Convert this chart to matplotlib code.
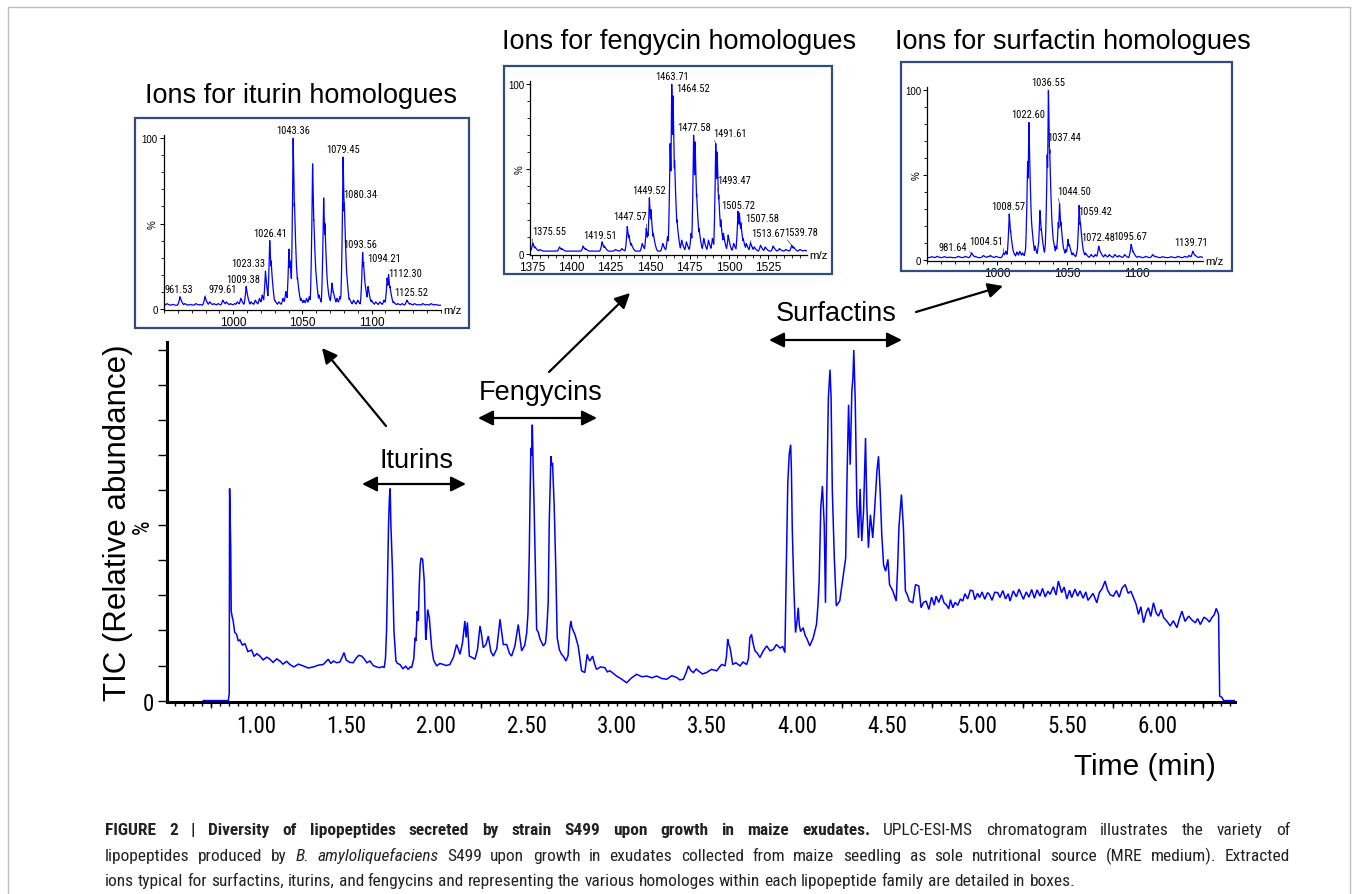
import os
import numpy as np
import matplotlib
matplotlib.use('Agg')
import matplotlib.pyplot as plt
from matplotlib import font_manager as fm
from matplotlib.font_manager import FontProperties
from matplotlib.patches import Rectangle
from matplotlib.ticker import MultipleLocator

# ======================= DATA =======================
# Total ion chromatogram (time in min, relative abundance in %), read segment by segment
t_solvent = [0.708, 0.847, 0.852, 0.854, 0.857, 0.860, 0.863, 0.868, 0.874, 0.882,
             0.893, 0.902, 0.911, 0.925, 0.939, 0.955, 0.976, 0.990, 1.005, 1.022,
             1.040, 1.060, 1.078, 1.095, 1.115, 1.133, 1.150, 1.170, 1.188, 1.210,
             1.235, 1.262, 1.290, 1.318, 1.345, 1.373, 1.390, 1.401, 1.415, 1.430,
             1.447, 1.465, 1.478, 1.488, 1.500, 1.520, 1.539, 1.555, 1.570, 1.586,
             1.600, 1.615, 1.632, 1.650, 1.668, 1.687, 1.700, 1.711]
v_solvent = [0.0, 0.0, 2.0, 60.5, 52.0, 44.5, 25.5, 24.0, 22.7, 19.5,
             18.9, 17.0, 17.3, 15.8, 16.3, 14.0, 14.4, 12.6, 13.4, 12.7,
             11.6, 12.4, 11.8, 10.9, 11.9, 11.3, 10.4, 11.2, 10.3, 9.6,
             10.4, 9.9, 9.3, 9.6, 10.1, 10.3, 11.2, 11.8, 10.6, 11.3,
             10.8, 11.0, 12.4, 13.7, 11.6, 10.9, 10.8, 12.1, 12.9, 12.7,
             11.9, 10.8, 11.3, 10.0, 9.6, 9.4, 9.7, 9.4]

t_itu_feng = [1.718, 1.724, 1.730, 1.735, 1.740, 1.744, 1.748, 1.752, 1.757, 1.765,
              1.776, 1.785, 1.798, 1.815, 1.830, 1.844, 1.855, 1.863, 1.875, 1.882,
              1.887, 1.894, 1.900, 1.905, 1.910, 1.915, 1.924, 1.933, 1.941, 1.946,
              1.952, 1.961, 1.974, 1.985, 2.002, 2.020, 2.039, 2.055, 2.075, 2.095,
              2.112, 2.120, 2.131, 2.145, 2.158, 2.165, 2.172, 2.183, 2.198, 2.214,
              2.228, 2.242, 2.250, 2.260, 2.275, 2.288, 2.302, 2.316, 2.335, 2.353,
              2.362, 2.371, 2.390, 2.405, 2.417, 2.435, 2.454, 2.463, 2.473, 2.490,
              2.501, 2.508, 2.515, 2.520, 2.524, 2.528, 2.532, 2.537, 2.542, 2.547,
              2.556, 2.565, 2.575, 2.593, 2.605, 2.612, 2.620, 2.626, 2.631, 2.635,
              2.640, 2.644, 2.653, 2.662, 2.670, 2.682, 2.694, 2.706, 2.718, 2.730,
              2.740, 2.746, 2.751, 2.760, 2.768, 2.786, 2.805, 2.823, 2.836, 2.843,
              2.851, 2.866, 2.877, 2.888]
v_itu_feng = [12.0, 19.9, 36.5, 50.0, 58.0, 60.5, 50.2, 44.0, 36.9, 19.9,
              11.3, 10.6, 10.3, 9.1, 9.8, 8.9, 9.6, 9.4, 12.0, 17.9,
              17.0, 25.5, 22.7, 32.2, 38.5, 40.7, 40.3, 34.1, 17.3, 20.5,
              26.0, 23.6, 15.1, 11.5, 9.9, 10.6, 10.3, 10.0, 10.3, 12.4,
              16.0, 15.0, 13.2, 16.5, 22.7, 18.0, 22.3, 12.7, 12.3, 11.8,
              14.5, 21.3, 19.0, 15.1, 16.0, 18.4, 14.0, 12.7, 14.8, 23.2,
              19.5, 16.0, 16.0, 13.5, 12.7, 15.5, 21.7, 18.0, 14.2, 15.8,
              19.4, 25.0, 41.7, 60.0, 72.1, 70.0, 78.7, 65.9, 55.0, 42.6,
              20.3, 19.5, 17.5, 15.6, 16.5, 20.3, 28.0, 51.2, 62.0, 69.7,
              67.0, 67.8, 55.9, 37.9, 17.9, 14.5, 13.2, 12.5, 11.3, 12.8,
              20.8, 22.7, 21.0, 19.8, 18.9, 15.6, 8.5, 8.0, 13.2, 12.0,
              11.3, 12.7, 10.5, 8.9]

t_valley = [2.910, 2.934, 2.948, 2.962, 2.980, 2.999, 3.025, 3.055, 3.080, 3.110,
            3.140, 3.166, 3.195, 3.221, 3.250, 3.277, 3.305, 3.332, 3.350, 3.369,
            3.385, 3.397, 3.410, 3.425, 3.440, 3.452, 3.475, 3.498, 3.525, 3.554,
            3.570, 3.582, 3.600, 3.608, 3.615, 3.621, 3.628, 3.643, 3.660, 3.683,
            3.700, 3.720, 3.730, 3.738, 3.747, 3.755, 3.766, 3.778, 3.794, 3.810,
            3.831, 3.850, 3.868, 3.885, 3.905, 3.920, 3.932]
v_valley = [9.6, 9.4, 8.2, 8.5, 7.8, 7.0, 6.2, 5.1, 6.4, 7.5,
            6.8, 7.0, 6.5, 7.0, 6.3, 6.1, 7.1, 6.6, 5.9, 6.1,
            8.0, 9.9, 8.6, 8.0, 9.0, 8.5, 7.6, 8.0, 8.9, 8.5,
            9.6, 10.3, 9.9, 12.5, 17.5, 16.0, 15.1, 10.3, 10.8, 9.9,
            11.0, 10.3, 12.0, 17.9, 18.9, 16.5, 14.2, 13.6, 12.3, 14.0,
            15.6, 14.2, 14.6, 16.0, 15.0, 15.4, 13.7]

t_surfactin = [3.941, 3.948, 3.956, 3.964, 3.968, 3.973, 3.982, 3.991, 4.000, 4.006,
               4.012, 4.019, 4.033, 4.045, 4.052, 4.070, 4.080, 4.089, 4.107, 4.115,
               4.122, 4.131, 4.140, 4.150, 4.157, 4.164, 4.173, 4.182, 4.188, 4.195,
               4.206, 4.217, 4.236, 4.254, 4.269, 4.276, 4.285, 4.294, 4.303, 4.309,
               4.314, 4.322, 4.331, 4.340, 4.349, 4.358, 4.368, 4.379, 4.386, 4.395,
               4.406, 4.419, 4.430, 4.442, 4.451, 4.460, 4.469, 4.479, 4.490, 4.503,
               4.512, 4.530, 4.549, 4.557, 4.564, 4.578, 4.589, 4.600, 4.612, 4.622,
               4.641, 4.656, 4.674, 4.687, 4.700]
v_surfactin = [41.2, 62.0, 70.2, 73.0, 66.0, 48.8, 31.7, 19.4, 23.0, 26.5,
               21.5, 19.7, 20.8, 18.5, 17.9, 15.6, 16.8, 17.9, 21.7, 27.0,
               34.1, 55.0, 61.2, 50.2, 27.9, 58.8, 86.3, 94.4, 86.6, 59.7,
               40.7, 27.0, 28.4, 35.0, 40.7, 62.6, 84.4, 67.3, 88.2, 92.0,
               100.0, 85.4, 55.9, 46.4, 60.4, 45.5, 54.0, 74.9, 55.9, 43.6,
               53.0, 46.4, 55.0, 65.4, 69.7, 59.7, 47.4, 38.8, 36.9, 40.3,
               33.1, 31.3, 28.4, 38.0, 49.3, 58.8, 49.3, 31.3, 30.0, 28.4,
               27.9, 33.1, 32.7, 26.5, 28.0]

t_plateau = [4.715, 4.730, 4.745, 4.760, 4.770, 4.785, 4.800, 4.815, 4.826, 4.840,
             4.850, 4.863, 4.875, 4.890, 4.905, 4.918, 4.930, 4.945, 4.960, 4.974,
             4.985, 5.000, 5.011, 5.025, 5.040, 5.055, 5.066, 5.080, 5.095, 5.112,
             5.124, 5.140, 5.155, 5.170, 5.180, 5.198, 5.215, 5.230, 5.254, 5.270,
             5.285, 5.300, 5.315, 5.330, 5.346, 5.360, 5.375, 5.390, 5.402, 5.420,
             5.435, 5.448, 5.466, 5.480, 5.495, 5.510, 5.522, 5.540, 5.555, 5.568,
             5.585, 5.600, 5.612, 5.624, 5.640, 5.661, 5.675, 5.690, 5.707, 5.720,
             5.735, 5.753, 5.770, 5.785, 5.800, 5.818, 5.835, 5.850, 5.864, 5.878,
             5.892, 5.905, 5.920, 5.935, 5.947, 5.960, 5.975, 5.990, 6.003, 6.018,
             6.031, 6.050, 6.068, 6.085, 6.105, 6.120, 6.133, 6.150, 6.170, 6.190,
             6.207, 6.220, 6.235, 6.255, 6.272, 6.285, 6.299, 6.312, 6.323, 6.336,
             6.342, 6.355, 6.364, 6.425]
v_plateau = [28.4, 26.0, 29.5, 27.2, 29.8, 28.0, 30.2, 27.8, 27.4, 26.2,
             28.8, 26.5, 28.0, 27.2, 29.0, 28.4, 30.5, 29.0, 31.5, 31.3,
             28.8, 30.6, 29.4, 31.0, 28.9, 30.8, 30.3, 28.6, 30.9, 30.8,
             29.4, 31.4, 29.0, 30.5, 28.4, 31.3, 29.6, 31.8, 28.9, 31.0,
             29.5, 31.7, 29.2, 31.6, 29.8, 32.0, 29.6, 31.2, 30.3, 32.5,
             30.1, 34.1, 30.8, 32.4, 29.0, 31.5, 29.4, 31.8, 29.8, 31.3,
             29.2, 31.0, 28.6, 29.4, 30.6, 27.9, 30.8, 31.9, 34.1, 31.6,
             30.2, 29.8, 31.4, 29.5, 32.0, 33.1, 30.6, 31.2, 29.4, 27.6,
             24.6, 26.8, 22.2, 25.2, 26.5, 24.0, 27.9, 25.0, 24.1, 26.0,
             23.7, 22.6, 21.3, 22.8, 20.8, 23.6, 25.5, 22.6, 24.1, 22.9,
             22.2, 23.4, 21.7, 23.8, 23.2, 22.4, 23.7, 24.5, 26.3, 24.6,
             1.3, 0.9, 0.0, 0.0]

time_ticks = [1.00, 1.50, 2.00, 2.50, 3.00, 3.50, 4.00, 4.50, 5.00, 5.50, 6.00]
time_tick_labels = ['1.00', '1.50', '2.00', '2.50', '3.00', '3.50', '4.00', '4.50',
                    '5.00', '5.50', '6.00']

# Iturin mass spectrum (m/z, %)
iturin_mz = [952, 956, 961.53, 965, 969, 973, 976, 979.61, 983, 986, 989, 992.5, 995, 998,
             1001, 1003, 1005.5, 1009.38, 1013, 1016, 1019, 1021, 1023.33, 1026.41, 1027.4,
             1030, 1033, 1036, 1038, 1040.3, 1041.2, 1043.36, 1044.3, 1045.4, 1046.5, 1049,
             1051, 1053, 1055, 1057.4, 1058.3, 1059.5, 1062, 1065.4, 1066.3, 1067.4, 1069,
             1071.4, 1072.4, 1075, 1077, 1078.4, 1079.45, 1080.34, 1081.4, 1084, 1087, 1090,
             1093.56, 1094.21, 1095.3, 1097.5, 1100, 1103, 1106, 1109, 1111.3, 1112.30,
             1113.3, 1116, 1119, 1122, 1125.52, 1128, 1131, 1134, 1137, 1140, 1143, 1146]
iturin_pct = [3, 2.5, 7, 3, 2.5, 3, 2.5, 7, 4, 3, 3, 5, 4, 3,
              3, 4, 6, 13, 4, 5, 6, 8, 22, 40, 28,
              5, 4, 6, 10, 35, 28, 100, 62, 30, 18, 6,
              5, 6, 7, 85, 52, 25, 8, 65, 50, 22, 8,
              15, 10, 6, 7, 12, 89, 62, 30, 6, 5, 5,
              33, 27, 15, 13, 5, 4, 4, 5, 18, 20,
              13, 4, 3, 3, 5, 3, 3, 2.5, 3, 2.5, 3, 2.5]
iturin_labels = ['961.53', '979.61', '1009.38', '1023.33', '1026.41', '1043.36', '1079.45',
                 '1080.34', '1093.56', '1094.21', '1112.30', '1125.52']

# Fengycin mass spectrum (m/z, %)
fengycin_mz = [1375.55, 1377, 1380, 1392.5, 1394, 1407.5, 1409, 1419.51, 1421, 1428, 1432,
               1435.5, 1436.5, 1438, 1445, 1447.57, 1448.5, 1449.52, 1450.5, 1452, 1458, 1461,
               1462.7, 1463.71, 1464.52, 1465.5, 1467, 1470, 1473, 1476, 1477.58, 1478.5,
               1479.5, 1481, 1484, 1487, 1489.5, 1491.61, 1492.5, 1493.47, 1494.8, 1496.5,
               1499.5, 1503, 1505.72, 1506.6, 1507.58, 1509, 1511, 1513.67, 1516, 1520, 1523,
               1528, 1532, 1536, 1539.78, 1541, 1545, 1548]
fengycin_pct = [6.3, 4, 2.5, 4, 3, 4.5, 3, 7, 4.5, 2.5, 3,
                16, 11, 6, 6, 15, 12, 33, 26, 12, 6, 10,
                65, 100, 93, 55, 20, 8, 7, 12, 70, 66,
                35, 15, 9, 8, 9, 65, 60, 35, 20, 12,
                11, 6, 25, 24, 18, 9, 6, 6.5, 4, 5, 4,
                4.5, 3, 2.5, 5, 4, 2.5, 2]
fengycin_labels = ['1375.55', '1419.51', '1447.57', '1449.52', '1463.71', '1464.52', '1477.58',
                   '1491.61', '1493.47', '1505.72', '1507.58', '1513.67', '1539.78']

# Surfactin mass spectrum (m/z, %)
surfactin_mz = [953, 957, 962, 966, 972, 977, 981.64, 984, 990, 993.5, 995, 999, 1004.51,
                1006, 1008.57, 1009.5, 1011, 1014, 1016, 1018, 1020.5, 1021.7, 1022.60,
                1023.5, 1024.5, 1027, 1029.5, 1030.5, 1031.5, 1033, 1034.8, 1035.7, 1036.55,
                1037.44, 1038.5, 1040, 1042, 1043.6, 1044.50, 1045.5, 1047, 1049, 1050.5,
                1051.5, 1054, 1057.5, 1058.5, 1059.42, 1060.5, 1063, 1067, 1070, 1072.48,
                1073.5, 1077, 1080, 1084, 1087, 1091, 1095.67, 1097, 1101, 1106, 1111, 1113,
                1118, 1124, 1129, 1134, 1137, 1139.71, 1141, 1145]
surfactin_pct = [1.8, 2.0, 1.8, 1.5, 2, 2, 4, 2, 2.5, 2, 2.5, 2, 4,
                 5, 27, 17, 6, 4.5, 5, 4, 8, 58, 81,
                 40, 22, 8, 10, 29, 18, 6, 14, 62, 100,
                 65, 30, 12, 8, 22, 33, 22, 8, 6, 12,
                 9, 4, 8, 32, 22, 9, 4, 3, 3, 8,
                 5, 3, 3, 3, 2.5, 3, 9, 5, 2, 2, 3, 2,
                 1.8, 1.8, 2, 2, 2.5, 5, 3, 1.8]
surfactin_labels = ['981.64', '1004.51', '1008.57', '1022.60', '1036.55', '1037.44', '1044.50',
                    '1059.42', '1072.48', '1095.67', '1139.71']

# ======================= FONTS =======================
W, H, DPI = 1358, 895, 100
names = {f.name for f in fm.fontManager.ttflist}
SANS = 'Liberation Sans' if 'Liberation Sans' in names else 'DejaVu Sans'
plt.rcParams['font.family'] = [SANS, 'DejaVu Sans']


def _weight(f):
    w = f.weight
    if isinstance(w, str):
        w = {'bold': 700, 'normal': 400, 'regular': 400, 'book': 400, 'medium': 500,
             'semibold': 600, 'demibold': 600, 'light': 300, 'black': 900, 'heavy': 800,
             'thin': 100, 'extra bold': 800, 'ultralight': 200}.get(w.lower(), 400)
    return int(w)


def find_condensed():
    groups = {}
    for f in fm.fontManager.ttflist:
        key = os.path.basename(f.fname).lower().replace('-', '').replace('_', '').replace(' ', '')
        if not ('narrow' in key or 'condensed' in key):
            continue
        if any(k in key for k in ('semicondensed', 'extracondensed', 'ultracondensed', 'mono',
                                  'extrabold', 'extralight', 'semibold', 'light', 'thin',
                                  'black', 'medium')):
            continue
        fam = 'other'
        for tag in ('liberationsansnarrow', 'robotocondensed', 'notosans', 'opensans',
                    'dejavusanscondensed'):
            if tag in key:
                fam = tag
                break
        groups.setdefault(fam, []).append(f)
    for fam in ('liberationsansnarrow', 'robotocondensed', 'notosans', 'opensans',
                'dejavusanscondensed', 'other'):
        lst = groups.get(fam)
        if not lst:
            continue

        def pick(wt, it):
            return min(lst, key=lambda f: abs(_weight(f) - wt) +
                       (0 if ((f.style != 'normal') == it) else 1000)).fname
        return {'regular': pick(400, False), 'bold': pick(700, False), 'italic': pick(400, True)}
    return None


COND = find_condensed()


def fprop(size, kind='regular'):
    if COND:
        return FontProperties(fname=COND[kind], size=size)
    return FontProperties(family=[SANS, 'DejaVu Sans'], size=size,
                          weight='bold' if kind == 'bold' else 'normal',
                          style='italic' if kind == 'italic' else 'normal')


BLUE = '#0000FF'
BOXC = '#2F4C7C'

fig = plt.figure(figsize=(W / DPI, H / DPI), dpi=DPI)
fig.patch.set_facecolor('white')

# ---------------- main chromatogram ----------------
L, R, T, B = 167, 1235, 343, 703
ax = fig.add_axes([L / W, 1 - B / H, (R - L) / W, (B - T) / H])
time_all = t_solvent + t_itu_feng + t_valley + t_surfactin + t_plateau
tic_all = v_solvent + v_itu_feng + v_valley + v_surfactin + v_plateau
ax.plot(time_all, tic_all, color=BLUE, lw=1.1, solid_joinstyle='miter')
ax.set_xlim(0.507, 6.427)
ax.set_ylim(-0.4, 102.3)
for s in ('top', 'right'):
    ax.spines[s].set_visible(False)
for s in ('left', 'bottom'):
    ax.spines[s].set_linewidth(2.2)

main_fs = 16.5 if COND else 14.5
ax.set_xticks(time_ticks)
ax.set_xticklabels(time_tick_labels, fontproperties=fprop(main_fs))
ax.xaxis.set_minor_locator(MultipleLocator(0.05))
ax.tick_params(axis='x', which='both', direction='out', length=2.6, width=1.0, pad=6)
ax.set_yticks([0, 50])
ax.set_yticklabels(['0', '%'], fontproperties=fprop(main_fs))
ax.get_yticklabels()[1].set_rotation(90)
ax.get_yticklabels()[1].set_va('center')
ax.yaxis.set_minor_locator(MultipleLocator(10))
ax.tick_params(axis='y', which='both', direction='out', length=6.5, width=1.0, pad=3)
sec = ax.secondary_xaxis('bottom')
sec.set_xticks([0.75 + 0.5 * i for i in range(12)])
sec.tick_params(length=4.5, width=1.0, labelbottom=False)
sec.spines['bottom'].set_visible(False)


# ---------------- insets ----------------
def profile(mz, pct, base, lo, hi, wl, wr):
    x = np.union1d(np.arange(lo, hi, 0.05), np.asarray(mz, float))
    y = np.full_like(x, base)
    for m, h in zip(mz, pct):
        tri = np.where(x <= m, 1 - (m - x) / wl, 1 - (x - m) / wr)
        tri = np.clip(tri, 0, 1) ** 1.8
        y = np.maximum(y, base + (h - base) * tri)
    return x, y


PK_FS = 7.6 if COND else 6.8


def inset(rect, xlim, mz, pct, base, wl, wr, xticks, xminor, labels, offsets):
    l, t, r, b = rect
    axi = fig.add_axes([l / W, 1 - b / H, (r - l) / W, (b - t) / H])
    gx, gy = profile(mz, pct, base, xlim[0], xlim[1], wl, wr)
    axi.plot(gx, gy, color=BLUE, lw=0.9)
    axi.set_xlim(*xlim)
    axi.set_ylim(-0.6, 101.8)
    for s in ('top', 'right'):
        axi.spines[s].set_visible(False)
    for s in ('left', 'bottom'):
        axi.spines[s].set_linewidth(0.9)
    axi.set_xticks(xticks)
    axi.set_xticklabels([str(v) for v in xticks], fontsize=8.5)
    axi.xaxis.set_minor_locator(MultipleLocator(xminor))
    axi.set_yticks([0, 50, 100])
    axi.set_yticklabels(['0', '%', '100'], fontsize=7)
    axi.get_yticklabels()[1].set_rotation(90)
    axi.get_yticklabels()[1].set_va('center')
    axi.yaxis.set_minor_locator(MultipleLocator(10))
    axi.tick_params(which='major', length=3.2, width=0.7, pad=1.2)
    axi.tick_params(which='minor', length=2.0, width=0.6)
    axi.text(1.01, 0.0, 'm/z', transform=axi.transAxes, ha='left', va='center', fontsize=8.2)
    hmap = dict(zip(mz, pct))
    for lab in labels:
        m = float(lab)
        h = hmap[m]
        dx, dy, lead = offsets.get(lab, (0, 3, False))
        kw = dict(xy=(m, h), xytext=(dx * 0.72, dy * 0.72), textcoords='offset points',
                  ha='center', va='bottom', fontproperties=fprop(PK_FS), annotation_clip=False)
        if lead:
            kw['arrowprops'] = dict(arrowstyle='-', lw=0.5, color='#444444', shrinkA=0, shrinkB=0,
                                    relpos=(0.0, 0.15) if dx > 0 else (1.0, 0.15))
        axi.annotate(lab, **kw)
    return axi


itu_off = {'961.53': (-1, 3, False), '979.61': (18, 3, True), '1009.38': (-3, 3, False),
           '1023.33': (-17, 3, True), '1080.34': (16, 4, True), '1093.56': (-2, 3, False),
           '1094.21': (21, 0, True), '1112.30': (17, -3, False), '1125.52': (4, 3, False)}
inset((164, 136.3, 440.7, 310.7), (950, 1150), iturin_mz, iturin_pct,
      2.0, 2.0, 3.5, [1000, 1050, 1100], 10, iturin_labels, itu_off)

feng_off = {'1375.55': (16, 7, True), '1419.51': (-2, 2, False), '1447.57': (-16, 7, True),
            '1464.52': (20, 3, True), '1491.61': (14, 6, True), '1493.47': (15, 9, True),
            '1505.72': (0, 1, False), '1507.58': (21, 0, True), '1513.67': (18, 5, True),
            '1539.78': (9, 8, True)}
inset((530.3, 82.3, 807, 255.7), (1374, 1549.5), fengycin_mz, fengycin_pct,
      1.5, 1.6, 3.0, [1375, 1400, 1425, 1450, 1475, 1500, 1525], 5, fengycin_labels, feng_off)

surf_off = {'981.64': (-19, 1, True), '1004.51': (-17, 7, True), '1008.57': (-1, 3, False),
            '1022.60': (-1, 4, False), '1037.44': (14, 8, True), '1044.50': (15, 8, True),
            '1059.42': (15, 6, True), '1072.48': (-1, 4, False), '1095.67': (-1, 3, False),
            '1139.71': (-2, 4, False)}
inset((927.3, 88.3, 1203, 261.7), (950, 1147), surfactin_mz, surfactin_pct,
      1.2, 2.0, 3.5, [1000, 1050, 1100], 10, surfactin_labels, surf_off)

# ---------------- overlay (pixel coordinates) ----------------
ov = fig.add_axes([0, 0, 1, 1], zorder=10)
ov.set_xlim(0, W)
ov.set_ylim(H, 0)
ov.axis('off')

ov.plot([8, 8, 1350, 1350], [H + 5, 8, 8, H + 5], color='#BDBDBD', lw=1.0, clip_on=False)

for (x0, y0, x1, y1) in [(135, 119, 469, 329), (504, 67, 832, 275), (901, 63, 1232, 272)]:
    ov.add_patch(Rectangle((x0, y0), x1 - x0, y1 - y0, fill=False, ec=BOXC, lw=1.6))

TFS = 19.5
ov.text(301, 103, 'Ions for iturin homologues', ha='center', va='baseline', fontsize=TFS)
ov.text(679, 49, 'Ions for fengycin homologues', ha='center', va='baseline', fontsize=TFS)
ov.text(1073, 49, 'Ions for surfactin homologues', ha='center', va='baseline', fontsize=TFS)

ov.text(416, 468, 'Iturins', ha='center', va='baseline', fontsize=TFS)
ov.text(541, 400, 'Fengycins', ha='center', va='baseline', fontsize=TFS)
ov.text(836, 321, 'Surfactins', ha='center', va='baseline', fontsize=TFS)

dbl = dict(arrowstyle='<|-|>,head_length=0.9,head_width=0.45', mutation_scale=10, lw=1.6,
           color='black', shrinkA=0, shrinkB=0)
one = dict(arrowstyle='-|>,head_length=0.9,head_width=0.45', mutation_scale=10, lw=1.6,
           color='black', shrinkA=0, shrinkB=0)
ov.annotate('', xy=(466, 485), xytext=(362, 485), arrowprops=dbl)
ov.annotate('', xy=(597, 419), xytext=(478, 419), arrowprops=dbl)
ov.annotate('', xy=(902, 341), xytext=(769, 341), arrowprops=dbl)
ov.annotate('', xy=(322, 349), xytext=(386, 427), arrowprops=one)
ov.annotate('', xy=(630, 294), xytext=(549, 373), arrowprops=one)
ov.annotate('', xy=(1003, 287), xytext=(916, 313), arrowprops=one)

ov.text(118, 523, 'TIC (Relative abundance)', rotation=90, ha='center', va='center', fontsize=22.5)
ov.text(1145, 775, 'Time (min)', ha='center', va='baseline', fontsize=21.5)

# ---------------- caption (justified like the journal layout) ----------------
cap_lines = [
    [('FIGURE 2 | Diversity of lipopeptides secreted by strain S499 upon growth in maize exudates.', 'bold'),
     ('UPLC-ESI-MS chromatogram illustrates the variety of', 'regular')],
    [('lipopeptides produced by', 'regular'), ('B. amyloliquefaciens', 'italic'),
     ('S499 upon growth in exudates collected from maize seedling as sole nutritional source (MRE medium). Extracted', 'regular')],
    [('ions typical for surfactins, iturins, and fengycins and representing the various homologes within each lipopeptide family are detailed in boxes.', 'regular')],
]
cap_base = [835, 861, 886]
cap_justify = [True, True, False]
renderer = fig.canvas.get_renderer()
CAP_L, CAP_R = 105, 1290


def text_w(s, fs, kind='regular'):
    tt = ov.text(0, 0, s, fontproperties=fprop(fs, kind))
    w = tt.get_window_extent(renderer).width
    tt.remove()
    return w


target3 = 960 if COND else 975
w3 = text_w(cap_lines[2][0][0], 10)
cap_fs = 10 * target3 / w3
space_w = text_w('x x', cap_fs) - text_w('xx', cap_fs)
for segs, yb, just in zip(cap_lines, cap_base, cap_justify):
    words = []
    for s, kind in segs:
        words += [(wd, kind, text_w(wd, cap_fs, kind)) for wd in s.split(' ')]
    total = sum(w[2] for w in words)
    gap = space_w
    if just:
        gap = max(space_w, (CAP_R - CAP_L - total) / (len(words) - 1))
    x = CAP_L
    for wd, kind, ww in words:
        ov.text(x, yb, wd, fontproperties=fprop(cap_fs, kind), ha='left', va='baseline',
                color='#222222')
        x += ww + gap

fig.savefig('out.png', dpi=DPI, facecolor='white')
